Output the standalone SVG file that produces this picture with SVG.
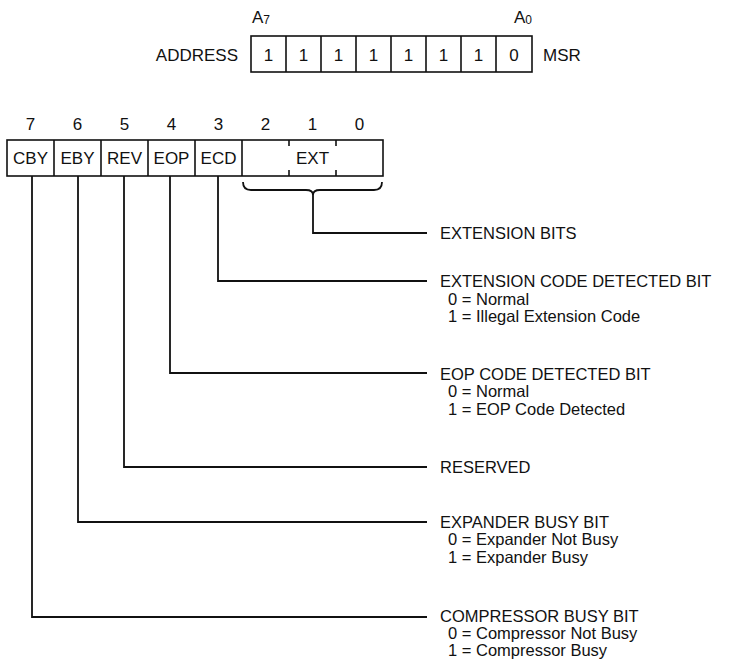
<svg xmlns="http://www.w3.org/2000/svg" width="736" height="663" viewBox="0 0 736 663">
<style>
text{font-family:"Liberation Sans",Arial,sans-serif;font-size:17px;fill:#111}
.l{font-size:16.5px}
.c{text-anchor:middle}
.e{text-anchor:end}
.box{fill:none;stroke:#111;stroke-width:1.6}
.ln{fill:none;stroke:#111;stroke-width:1.8}
</style>
<rect width="736" height="663" fill="#fff"/>
<g id="address-register">
<text x="252" y="23">A<tspan font-size="12" dy="1">7</tspan></text>
<text x="532" y="23" class="e">A<tspan font-size="12" dy="1">0</tspan></text>
<text x="238" y="61" class="e">ADDRESS</text>
<rect class="box" x="251" y="36" width="281" height="36"/>
<path class="box" d="M286 36V72M321 36V72M356 36V72M391 36V72M426 36V72M461 36V72M496 36V72"/>
<text x="268.5" y="61" class="c">1</text>
<text x="303.5" y="61" class="c">1</text>
<text x="338.5" y="61" class="c">1</text>
<text x="373.5" y="61" class="c">1</text>
<text x="408.5" y="61" class="c">1</text>
<text x="443.5" y="61" class="c">1</text>
<text x="478.5" y="61" class="c">1</text>
<text x="514" y="61" class="c">0</text>
<text x="543" y="61">MSR</text>
</g>
<g id="msr-register">
<text x="30.5" y="130" class="c">7</text>
<text x="77.5" y="130" class="c">6</text>
<text x="124.5" y="130" class="c">5</text>
<text x="171.5" y="130" class="c">4</text>
<text x="218.5" y="130" class="c">3</text>
<text x="265.5" y="130" class="c">2</text>
<text x="312.5" y="130" class="c">1</text>
<text x="359.5" y="130" class="c">0</text>
<rect class="box" x="7" y="140" width="376" height="36"/>
<path class="box" d="M54 140V176M101 140V176M148 140V176M195 140V176M242 140V176"/>
<path class="box" d="M289 140V146M289 170V176M336 140V146M336 170V176"/>
<text x="30.5" y="164" class="c">CBY</text>
<text x="77.5" y="164" class="c">EBY</text>
<text x="124.5" y="164" class="c">REV</text>
<text x="171.5" y="164" class="c">EOP</text>
<text x="218.5" y="164" class="c">ECD</text>
<text x="312.5" y="164" class="c">EXT</text>
</g>
<g id="connectors">
<path class="ln" d="M243 182Q243 190 251 190H306Q313 190 313 195Q313 190 320 190H374Q382 190 382 182"/>
<path class="ln" d="M313 195V233H427"/>
<path class="ln" d="M218 176V281H427"/>
<path class="ln" d="M170 176V373H427"/>
<path class="ln" d="M124 176V467H427"/>
<path class="ln" d="M78 176V522H427"/>
<path class="ln" d="M32 176V617H427"/>
</g>
<g id="label-ext">
<text class="l" x="440" y="239">EXTENSION BITS</text>
</g>
<g id="label-ecd">
<text class="l" x="440" y="287">EXTENSION CODE DETECTED BIT</text>
<text class="l" x="448" y="304.5">0 = Normal</text>
<text class="l" x="448" y="322">1 = Illegal Extension Code</text>
</g>
<g id="label-eop">
<text class="l" x="440" y="379.5">EOP CODE DETECTED BIT</text>
<text class="l" x="448" y="397">0 = Normal</text>
<text class="l" x="448" y="414.5">1 = EOP Code Detected</text>
</g>
<g id="label-rev">
<text class="l" x="440" y="473">RESERVED</text>
</g>
<g id="label-eby">
<text class="l" x="440" y="527.5">EXPANDER BUSY BIT</text>
<text class="l" x="448" y="545">0 = Expander Not Busy</text>
<text class="l" x="448" y="562.5">1 = Expander Busy</text>
</g>
<g id="label-cby">
<text class="l" x="440" y="622">COMPRESSOR BUSY BIT</text>
<text class="l" x="448" y="639">0 = Compressor Not Busy</text>
<text class="l" x="448" y="656">1 = Compressor Busy</text>
</g>
</svg>
